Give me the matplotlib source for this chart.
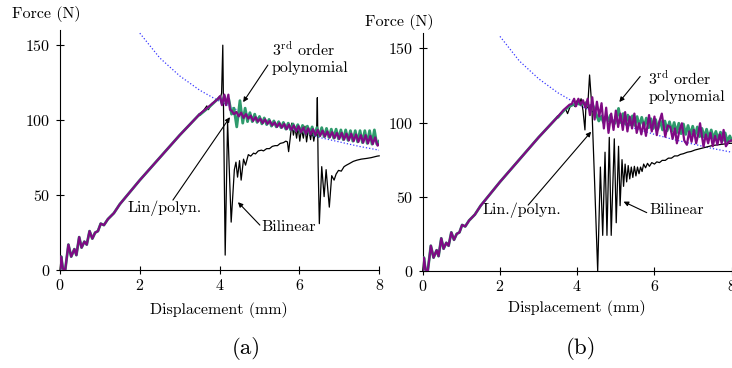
import matplotlib
matplotlib.use('Agg')
import matplotlib.pyplot as plt

plt.rcParams['font.family'] = ['cmr10', 'DejaVu Serif']
plt.rcParams['mathtext.fontset'] = 'cm'
plt.rcParams['axes.unicode_minus'] = False
plt.rcParams['axes.formatter.use_mathtext'] = True

# ---------------- data ----------------
x_ticks = [0, 2, 4, 6, 8]
y_ticks = [0, 50, 100, 150]

# common initial loading branch
rise_x = [0.00, 0.03, 0.07, 0.13, 0.21, 0.28, 0.36, 0.41, 0.48, 0.54, 0.61, 0.67, 0.74,
          0.81, 0.88, 0.95, 1.02, 1.10, 1.20, 1.35, 1.50, 1.75, 2.00, 2.50, 3.00, 3.50]
rise_y = [0, 9, 1, 0, 17, 9, 14, 10, 22, 15, 19, 17, 26,
          21, 25, 26, 31, 30, 34, 38, 44, 52, 60, 75, 90, 104]

# analytical envelope (blue dotted)
env_x = [2.0, 2.5, 3.0, 3.5, 4.0, 4.5, 5.0, 5.5, 6.0, 6.5, 7.0, 7.5, 8.0]
env_y = [158, 141.5, 129.5, 120, 112.5, 106, 101, 96, 92, 88.5, 85.5, 82.5, 80]

# ---- panel (a) ----
purple_a_x = [3.50, 3.75, 3.95, 4.01, 4.06, 4.12, 4.16, 4.22, 4.26, 4.31, 4.36, 4.42,
              4.48, 4.54, 4.60, 4.66, 4.72, 4.78, 4.84, 4.90, 4.96, 5.02, 5.08, 5.14,
              5.20, 5.26, 5.32, 5.38, 5.44, 5.50, 5.56, 5.62, 5.68, 5.74, 5.80, 5.86,
              5.92, 5.98, 6.04, 6.10, 6.16, 6.22, 6.28, 6.34, 6.40, 6.46, 6.52, 6.58,
              6.64, 6.70, 6.76, 6.82, 6.88, 6.94, 7.00, 7.06, 7.12, 7.18, 7.24, 7.30,
              7.36, 7.42, 7.48, 7.54, 7.60, 7.66, 7.72, 7.78, 7.84, 7.90, 7.96, 8.00]
purple_a_y = [104, 109.5, 114, 116, 110, 117, 110, 117, 107, 106, 104, 105.5,
              102.5, 105, 101.5, 104, 101, 103, 99.5, 102, 99, 101, 98, 100.5,
              97.5, 99.5, 96.5, 98.5, 95.5, 98, 95, 97.5, 94, 97, 93.5, 96.5,
              92.5, 96, 92, 95, 91, 94.5, 90.5, 94, 90, 93.5, 89.5, 93,
              89, 92.5, 88.5, 92, 88, 91.5, 87.5, 91.5, 87, 91, 86.5, 91,
              86, 90.5, 85.5, 90, 85, 90, 84.5, 89.5, 84, 88.5, 83, 84]

green_a_x = [3.50, 3.75, 3.95, 4.01, 4.06, 4.12, 4.17, 4.23, 4.30, 4.36, 4.43, 4.51,
             4.58, 4.64, 4.70, 4.76, 4.82, 4.88, 4.94, 5.00, 5.06, 5.12,
             5.18, 5.24, 5.30, 5.36, 5.42, 5.48, 5.54, 5.60, 5.66, 5.72,
             5.78, 5.84, 5.90, 5.96, 6.02, 6.08, 6.14, 6.20, 6.26, 6.32,
             6.38, 6.44, 6.50, 6.56, 6.62, 6.68, 6.74, 6.80, 6.86, 6.92,
             6.98, 7.04, 7.10, 7.16, 7.22, 7.28, 7.34, 7.40, 7.46, 7.52,
             7.58, 7.64, 7.70, 7.76, 7.82, 7.88, 7.94, 8.00]
green_a_y = [103.5, 109, 114, 115.5, 111, 116, 111, 114, 104, 108, 95.5, 113,
             98, 108, 99, 105, 99, 104, 98.5, 102.5, 97.5, 101.5,
             97, 100.5, 96, 99.5, 95.5, 99, 95, 98.5, 94, 98,
             93.5, 97.5, 93, 97, 92, 96.5, 91.5, 96, 91, 95.5,
             90, 95, 89.5, 95, 89, 94.5, 88.5, 94, 88, 94,
             87.5, 93.5, 87, 93.5, 86.5, 93, 86, 93, 85.5, 93,
             85, 93, 84.5, 93, 84, 93.5, 84, 86]

black_a_x = [3.50, 3.60, 3.68, 3.72, 3.80, 3.95, 4.02, 4.05, 4.08, 4.11, 4.14, 4.20,
             4.29, 4.37, 4.41, 4.45, 4.50, 4.54, 4.60, 4.65, 4.72, 4.78, 4.85, 4.90,
             4.97, 5.05, 5.10, 5.18, 5.25, 5.32, 5.39, 5.45, 5.52, 5.60, 5.66, 5.70,
             5.73, 5.77, 5.81, 5.85, 5.89, 5.93, 5.97, 6.01, 6.05, 6.10, 6.14, 6.18,
             6.23, 6.28, 6.32, 6.36, 6.40, 6.43, 6.45, 6.47, 6.50, 6.56, 6.62, 6.67,
             6.75, 6.81, 6.87, 6.92, 6.98, 7.05, 7.12, 7.18, 7.25, 7.35, 7.44, 7.55,
             7.69, 7.80, 7.95, 8.00]
black_a_y = [104, 106.5, 109.5, 107, 111, 114, 115, 118, 150, 80, 10, 99,
             32, 67, 72, 62, 73, 60, 74, 70, 77, 76, 78, 77.5,
             79.5, 80, 79.5, 81, 81, 82.5, 83, 83, 84.5, 85, 86, 85.5,
             79, 88, 98, 90, 95, 88, 96, 86, 94, 88, 96, 85.5,
             95, 87, 94, 86, 92, 90, 115, 70, 31, 69, 49, 67,
             42, 63, 60, 64, 66.5, 66, 69, 70, 71, 72.5, 73.3, 74,
             74.5, 75, 76, 76.2]

# ---- panel (b) ----
purple_b_x = [3.50, 3.65, 3.80, 3.86, 3.92, 3.97, 4.03, 4.09, 4.15, 4.21, 4.27, 4.33,
              4.39, 4.45, 4.51, 4.57, 4.63, 4.69, 4.75, 4.81, 4.88, 4.94, 5.00, 5.06,
              5.12, 5.18, 5.24, 5.30, 5.36, 5.42, 5.48, 5.54, 5.60, 5.66, 5.72, 5.78,
              5.86, 5.93, 6.00, 6.06, 6.12, 6.19, 6.28, 6.34, 6.41, 6.47, 6.53, 6.58,
              6.65, 6.71, 6.77, 6.84, 6.90, 6.96, 7.02, 7.08, 7.14, 7.18, 7.27, 7.33,
              7.39, 7.45, 7.51, 7.57, 7.63, 7.69, 7.74, 7.79, 7.85, 7.92, 8.00]
purple_b_y = [104, 108.5, 112, 112.5, 116, 111, 116, 112, 115, 110, 116, 105,
              117, 102, 114, 104, 113, 96, 110, 93, 106, 95, 108, 97,
              106, 95, 107, 94, 104, 96, 106, 93, 99.5, 92, 100, 91,
              105, 94, 104, 91.5, 100, 106, 90.4, 98, 97, 89, 96, 86,
              95, 99.5, 88, 85, 94, 87, 95, 86, 93, 99.5, 83.7, 92,
              86, 93, 84, 91, 85, 92, 86, 95, 84, 87, 88]

green_b_x = [3.50, 3.65, 3.80, 3.90, 4.00, 4.10, 4.20, 4.30, 4.40, 4.50, 4.56, 4.62,
             4.68, 4.74, 4.80, 4.86, 4.92, 4.98, 5.07, 5.13, 5.19, 5.25, 5.31, 5.37,
             5.43, 5.49, 5.55, 5.61, 5.67, 5.73, 5.79, 5.85, 5.91, 5.97, 6.03, 6.09,
             6.15, 6.21, 6.27, 6.33, 6.39, 6.45, 6.51, 6.57, 6.63, 6.69, 6.75, 6.81,
             6.87, 6.93, 6.99, 7.05, 7.11, 7.17, 7.23, 7.29, 7.35, 7.41, 7.47, 7.53,
             7.59, 7.65, 7.71, 7.77, 7.83, 7.89, 7.95, 8.00]
green_b_y = [103.5, 108, 111, 112, 113, 112, 113, 111, 112, 105, 101, 104,
             100, 104, 101, 105, 100, 99.5, 109.5, 100, 106, 99, 105, 98.5,
             104.5, 98, 104, 97.5, 103.5, 97, 103, 96.5, 102.5, 96, 102, 95.5,
             101.5, 95, 101, 94.5, 100.5, 94, 100, 93, 99.5, 92.5, 99, 92,
             98, 91.5, 97.5, 91, 97, 90.5, 96, 90, 95.5, 89.5, 95, 89,
             94, 88.5, 93.5, 88, 93, 87, 91, 88]

black_b_x = [3.50, 3.62, 3.70, 3.75, 3.82, 3.90, 3.95, 4.00, 4.05, 4.10, 4.15, 4.20,
             4.23, 4.27, 4.32, 4.38, 4.45, 4.53, 4.60, 4.66, 4.72, 4.77, 4.83, 4.88,
             4.96, 5.01, 5.07, 5.11, 5.16, 5.20, 5.24, 5.28, 5.32, 5.36, 5.40, 5.44,
             5.48, 5.52, 5.56, 5.60, 5.64, 5.68, 5.72, 5.77, 5.82, 5.87, 5.93, 6.00,
             6.06, 6.13, 6.20, 6.28, 6.36, 6.44, 6.52, 6.60, 6.67, 6.75, 6.85, 6.95,
             7.05, 7.20, 7.35, 7.50, 7.65, 7.80, 7.95, 8.00]
black_b_y = [104, 107, 109, 106, 111, 112, 110.6, 115, 112, 116, 108, 95,
             114, 110, 132, 110, 60, 0, 70, 24, 80, 24, 90, 24,
             89, 32.5, 84, 44, 75, 57, 72, 60, 71, 62, 70, 63,
             70.5, 64, 70, 65.5, 70, 67, 72, 69.5, 72.5, 70.5, 73, 72,
             73.5, 73, 74.5, 74.5, 76, 76, 77.5, 77.5, 78.5, 79, 80, 80.5,
             81.5, 82.5, 83.5, 84.5, 85, 85.5, 86, 86]

PURPLE = '#7f0a84'
GREEN = '#2e9a6c'
BLUE = '#3a3aff'

fig = plt.figure(figsize=(7.32, 3.68), dpi=100)
axA = fig.add_axes([0.082, 0.266, 0.436, 0.652])
axB = fig.add_axes([0.5775, 0.2636, 0.4221, 0.6456])

fs = 11.5


def draw(ax, bx, by, gx, gy, px, py):
    ax.plot(env_x, env_y, color=BLUE, lw=0.9, ls=(0, (1, 1.6)), zorder=1)
    ax.plot(rise_x + bx, rise_y + by, color='black', lw=0.9, zorder=2, clip_on=False)
    ax.plot(rise_x + gx, rise_y + gy, color=GREEN, lw=2.0, zorder=3)
    ax.plot(rise_x + px, rise_y + py, color=PURPLE, lw=1.6, zorder=4)
    ax.set_xlim(0, 8)
    ax.set_ylim(0, 160)
    ax.set_xticks(x_ticks)
    ax.set_yticks(y_ticks)
    for s in ('top', 'right'):
        ax.spines[s].set_visible(False)
    for s in ('left', 'bottom'):
        ax.spines[s].set_linewidth(0.8)
    ax.tick_params(direction='inout', length=6, width=0.8, labelsize=fs, pad=3)
    ax.tick_params(axis='y', pad=4)
    ax.patch.set_alpha(0)


draw(axA, black_a_x, black_a_y, green_a_x, green_a_y, purple_a_x, purple_a_y)
draw(axB, black_b_x, black_b_y, green_b_x, green_b_y, purple_b_x, purple_b_y)

arrow = dict(arrowstyle='-|>', color='black', lw=0.8, mutation_scale=7,
             shrinkA=0, shrinkB=0)

# panel (a) annotations
axA.text(5.31, 141.7, '3$^{\\rm rd}$ order\npolynomial', fontsize=fs, ha='left',
         va='center', linespacing=1.2)
axA.annotate('', xy=(4.59, 112), xytext=(5.21, 136.7), arrowprops=arrow)
axA.text(1.70, 41.3, 'Lin/polyn.', fontsize=fs, ha='left', va='center')
axA.annotate('', xy=(4.26, 102), xytext=(2.83, 46.7), arrowprops=arrow)
axA.text(5.06, 28.7, 'Bilinear', fontsize=fs, ha='left', va='center')
axA.annotate('', xy=(4.46, 45.3), xytext=(5.01, 30), arrowprops=arrow)

# panel (b) annotations
axB.text(5.84, 124.2, '3$^{\\rm rd}$ order\npolynomial', fontsize=fs, ha='left',
         va='center', linespacing=1.2)
axB.annotate('', xy=(5.09, 113.8), xytext=(5.63, 131), arrowprops=arrow)
axB.text(1.56, 41.1, 'Lin./polyn.', fontsize=fs, ha='left', va='center')
axB.annotate('', xy=(4.36, 93.8), xytext=(2.73, 44.4), arrowprops=arrow)
axB.text(5.86, 41.1, 'Bilinear', fontsize=fs, ha='left', va='center')
axB.annotate('', xy=(5.20, 46.7), xytext=(5.80, 39.3), arrowprops=arrow)

W, H = 732.0, 368.0
fig.text(12 / W, 1 - 13.5 / H, 'Force (N)', fontsize=fs, ha='left', va='center')
fig.text(365 / W, 1 - 21.5 / H, 'Force (N)', fontsize=fs, ha='left', va='center')
fig.text(219 / W, 1 - 310 / H, 'Displacement (mm)', fontsize=fs, ha='center', va='center')
fig.text(577 / W, 1 - 308 / H, 'Displacement (mm)', fontsize=fs, ha='center', va='center')
fig.text(246 / W, 1 - 349 / H, '(a)', fontsize=16.5, ha='center', va='center')
fig.text(581 / W, 1 - 349 / H, '(b)', fontsize=16.5, ha='center', va='center')

fig.savefig('out.png', dpi=100)
